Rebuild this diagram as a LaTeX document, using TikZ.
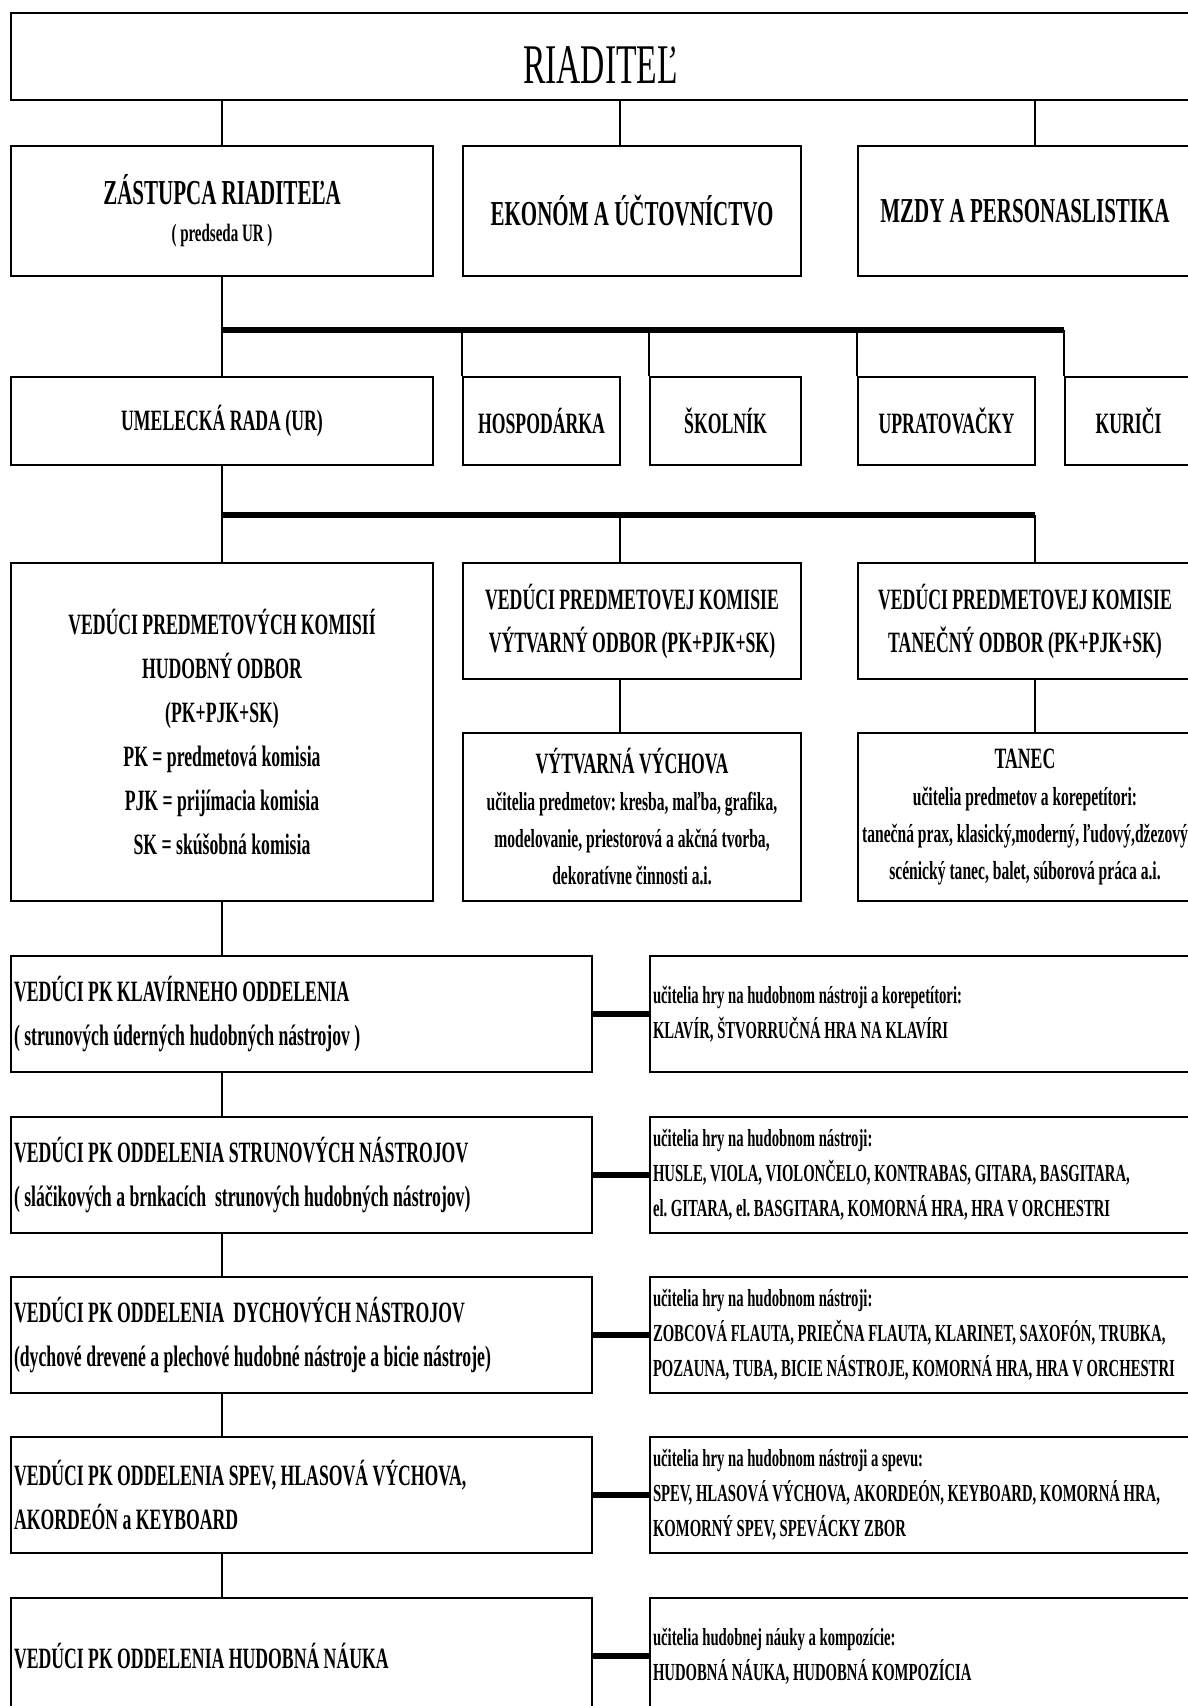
\documentclass[tikz,border=0pt]{standalone}
\usepackage{fontspec}
\setmainfont{Liberation Serif}[FakeStretch=0.6]
\usepackage{tikz}
\usetikzlibrary{positioning, calc}
\frenchspacing

\begin{document}
\begin{tikzpicture}[
    x=1pt, y=-1pt,
    box/.style={draw, line width=2.5pt, align=center, inner sep=2pt, font=\bfseries\fontsize{29.5}{44}\selectfont},
    title/.style={draw, line width=2.5pt, font=\fontsize{56}{60}\selectfont, text height=53pt, text depth=0pt},
    head/.style={box, font=\bfseries\fontsize{35}{37}\selectfont},
    subj/.style={box, font=\bfseries\fontsize{26}{37}\selectfont},
    dept/.style={box, align=flush left, text width=575pt, inner xsep=3pt, minimum height=116pt},
    staff/.style={box, align=flush left, text width=536pt, inner xsep=3pt, minimum height=116pt, font=\bfseries\fontsize{24.5}{35}\selectfont},
    link/.style={line width=2.5pt},
    bus/.style={line width=6pt},
]
\useasboundingbox (0,0) rectangle (1188,1706);

% director and office
\node[title, minimum width=1179, minimum height=87] (riad) at (600.5,56.5) {RIADITEĽ};
\node[head, minimum width=422, minimum height=130] (zast) at (222,211) {ZÁSTUPCA RIADITEĽA\\{\fontsize{25}{37}\selectfont ( predseda UR )}};
\node[head, minimum width=338, minimum height=130] (ekon) at (632,211) {EKONÓM A ÚČTOVNÍCTVO};
\node[head, minimum width=334, minimum height=130] (mzdy) at (1025,211) {MZDY A PERSONASLISTIKA};

% council and staff
\node[box, minimum width=422, minimum height=88] (umel) at (222,421) {UMELECKÁ RADA (UR)};
\node[box, minimum width=157, minimum height=88] (hosp) at (541.5,421) {HOSPODÁRKA};
\node[box, minimum width=151, minimum height=88] (skol) at (725.5,421) {ŠKOLNÍK};
\node[box, minimum width=177, minimum height=88] (uprat) at (946.5,421) {UPRATOVAČKY};
\node[box, minimum width=127, minimum height=88] (kuri) at (1128.5,421) {KURIČI};

% subject committees
\node[box, minimum width=422, minimum height=338] (pkh) at (222,732) {VEDÚCI PREDMETOVÝCH KOMISIÍ\\HUDOBNÝ ODBOR\\(PK+PJK+SK)\\PK = predmetová komisia\\PJK = prijímacia komisia\\SK = skúšobná komisia};
\node[box, minimum width=338, minimum height=116, font=\bfseries\fontsize{29.5}{43}\selectfont] (pkv) at (632,621) {VEDÚCI PREDMETOVEJ KOMISIE\\VÝTVARNÝ ODBOR (PK+PJK+SK)};
\node[box, minimum width=334, minimum height=116, font=\bfseries\fontsize{29.5}{43}\selectfont] (pkt) at (1025,621) {VEDÚCI PREDMETOVEJ KOMISIE\\TANEČNÝ ODBOR (PK+PJK+SK)};
\node[subj, minimum width=338, minimum height=168] (vv) at (632,817) {{\fontsize{29.5}{37}\selectfont VÝTVARNÁ VÝCHOVA}\\učitelia predmetov: kresba, maľba, grafika,\\modelovanie, priestorová a akčná tvorba,\\dekoratívne činnosti a.i.};
\node[subj, minimum width=334, minimum height=168] (tan) at (1025,817) {{\fontsize{29.5}{37}\selectfont TANEC}\\učitelia predmetov a korepetítori:\\tanečná prax, klasický,moderný, ľudový,džezový\\scénický tanec, balet, súborová práca a.i.};

% music departments
\node[dept] (pk5) at (301.5,1014) {VEDÚCI PK KLAVÍRNEHO ODDELENIA\\( strunových úderných hudobných nástrojov )};
\node[dept] (pk6) at (301.5,1175) {VEDÚCI PK ODDELENIA STRUNOVÝCH NÁSTROJOV\\( sláčikových a brnkacích~ strunových hudobných nástrojov)};
\node[dept] (pk7) at (301.5,1335) {VEDÚCI PK ODDELENIA~ DYCHOVÝCH NÁSTROJOV\\(dychové drevené a plechové hudobné nástroje a bicie nástroje)};
\node[dept] (pk8) at (301.5,1495) {VEDÚCI PK ODDELENIA SPEV, HLASOVÁ VÝCHOVA,\\AKORDEÓN a KEYBOARD};
\node[dept] (pk9) at (301.5,1656) {VEDÚCI PK ODDELENIA HUDOBNÁ NÁUKA};

\node[staff] (uc5) at (921,1014) {učitelia hry na hudobnom nástroji a korepetítori:\\KLAVÍR, ŠTVORRUČNÁ HRA NA KLAVÍRI};
\node[staff] (uc6) at (921,1175) {učitelia hry na hudobnom nástroji:\\HUSLE, VIOLA, VIOLONČELO, KONTRABAS, GITARA, BASGITARA,\\el. GITARA, el. BASGITARA, KOMORNÁ HRA, HRA V ORCHESTRI};
\node[staff] (uc7) at (921,1335) {učitelia hry na hudobnom nástroji:\\ZOBCOVÁ FLAUTA, PRIEČNA FLAUTA, KLARINET, SAXOFÓN, TRUBKA,\\POZAUNA, TUBA, BICIE NÁSTROJE, KOMORNÁ HRA, HRA V ORCHESTRI};
\node[staff] (uc8) at (921,1495) {učitelia hry na hudobnom nástroji a spevu:\\SPEV, HLASOVÁ VÝCHOVA, AKORDEÓN, KEYBOARD, KOMORNÁ HRA,\\KOMORNÝ SPEV, SPEVÁCKY ZBOR};
\node[staff] (uc9) at (921,1656) {učitelia hudobnej náuky a kompozície:\\HUDOBNÁ NÁUKA, HUDOBNÁ KOMPOZÍCIA};

% connector axes and buses
\coordinate (axB) at (620,0);
\coordinate (axC) at (1035,0);
\coordinate (bus1) at (222,330);
\coordinate (bus2) at (222,515);

\draw[link] (riad.south -| zast.north) -- (zast.north);
\draw[link] (riad.south -| axB) -- (ekon.north -| axB);
\draw[link] (riad.south -| axC) -- (mzdy.north -| axC);
\draw[link] (zast.south) -- (umel.north);
\draw[bus] (bus1) -- (bus1 -| kuri.west);
\foreach \n in {hosp, skol, uprat, kuri}
    \draw[link] (bus1 -| \n.west) -- (\n.north west);

\draw[link] (umel.south) -- (pkh.north);
\draw[bus] (bus2) -- (bus2 -| axC);
\draw[link] (bus2 -| axB) -- (pkv.north -| axB);
\draw[link] (bus2 -| axC) -- (pkt.north -| axC);
\draw[link] (pkv.south -| axB) -- (vv.north -| axB);
\draw[link] (pkt.south -| axC) -- (tan.north -| axC);

\draw[link] (pkh.south) -- (pk5.north -| pkh.south);
\foreach \a/\b in {5/6, 6/7, 7/8, 8/9}
    \draw[link] (pk\a.south -| pkh.south) -- (pk\b.north -| pkh.south);
\foreach \i in {5,...,9}
    \draw[bus] (pk\i.east) -- (uc\i.west);
\end{tikzpicture}
\end{document}
